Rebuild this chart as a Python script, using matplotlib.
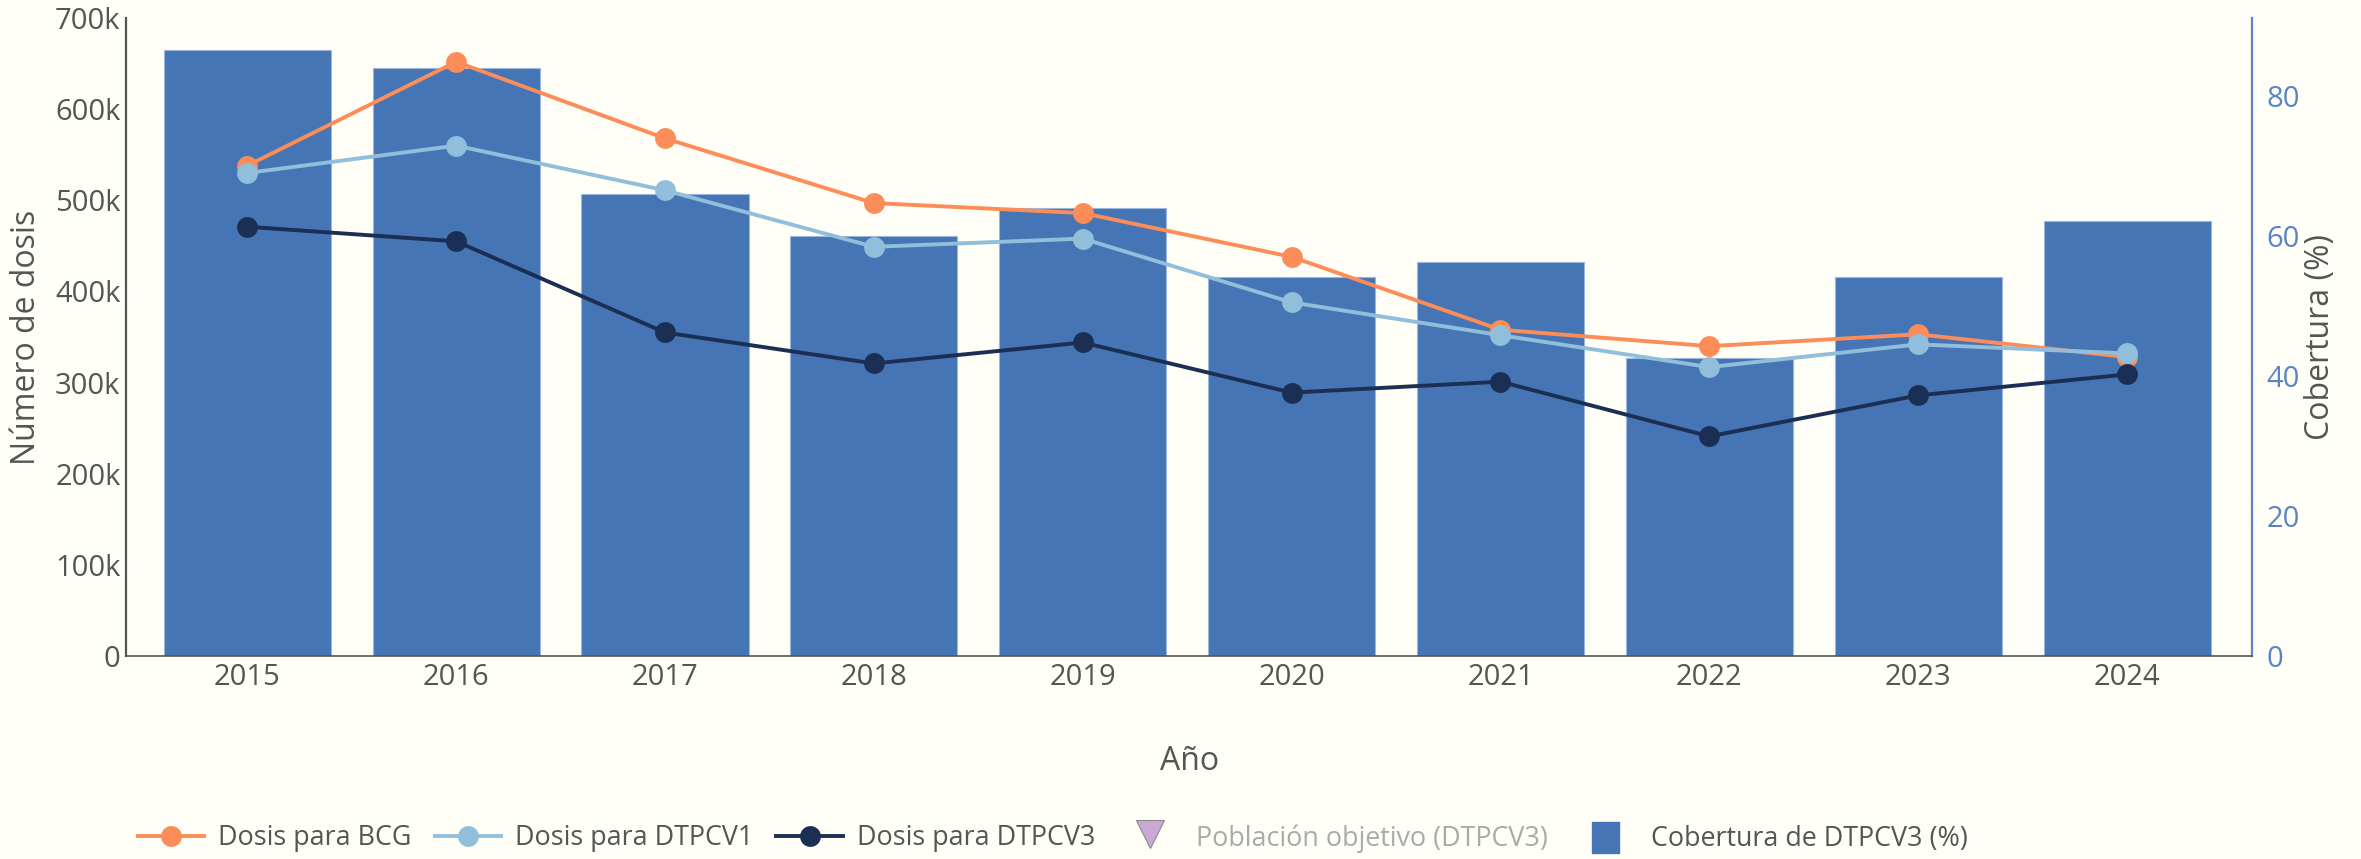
"""Dosis aplicadas y cobertura de DTPCV3, 2015-2024."""

import matplotlib
matplotlib.use("Agg")
import matplotlib.pyplot as plt
import matplotlib.lines as mlines
import matplotlib.patches as mpatches
import numpy as np

plt.rcParams["font.family"] = ["Open Sans", "DejaVu Sans"]

# Data
YEARS = ["2015", "2016", "2017", "2018", "2019", "2020", "2021", "2022", "2023", "2024"]
DOSIS_BCG = [538, 652, 568, 497, 486, 438, 358, 340, 353, 328]       # miles
DOSIS_DTPCV1 = [530, 560, 511, 449, 458, 388, 352, 317, 342, 332]    # miles
DOSIS_DTPCV3 = [471, 455, 355, 321, 344, 289, 301, 241, 286, 309]    # miles
COBERTURA_DTPCV3 = [86.6, 83.9, 66.0, 60.0, 64.0, 54.1, 56.3, 42.6, 54.1, 62.1]

BG = "#fffef7"
C_BAR = "#4575b4"
C_BCG = "#fc8d59"
C_DTP1 = "#91bfdb"
C_DTP3 = "#1b2f55"
C_POB = "#c9a9d6"
C_RIGHT = "#5b84c4"
C_TXT = "#555555"
LW = 2.8

fig = plt.figure(figsize=(23.61, 8.59), dpi=100, facecolor=BG)
ax = fig.add_axes([0.0534, 0.2363, 0.9006, 0.7427])
ax2 = ax.twinx()
ax2.set_zorder(ax.get_zorder() - 1)
ax.patch.set_visible(False)
ax2.set_facecolor(BG)

x = np.arange(len(YEARS))
ax2.bar(x, COBERTURA_DTPCV3, width=0.8, color=C_BAR, edgecolor="#9db6dc", linewidth=0.8)

for vals, col in [(DOSIS_BCG, C_BCG), (DOSIS_DTPCV1, C_DTP1), (DOSIS_DTPCV3, C_DTP3)]:
    ax.plot(x, np.array(vals) * 1000, color=col, linewidth=LW, marker="o",
            markersize=15, markeredgewidth=0)

ax.set_xlim(-0.58, 9.6)
ax.set_ylim(0, 700000)
ax2.set_ylim(0, 91.1)

ax.set_yticks(np.arange(0, 700001, 100000))
ax.set_yticklabels(["0"] + [f"{v}k" for v in range(100, 701, 100)])
ax2.set_yticks([0, 20, 40, 60, 80])
ax.set_xticks(x)
ax.set_xticklabels(YEARS)

ax.tick_params(axis="x", length=0, labelsize=21, colors=C_TXT, pad=5)
ax.tick_params(axis="y", length=0, labelsize=21, colors=C_TXT, pad=4)
ax2.tick_params(axis="y", length=0, labelsize=21, colors=C_RIGHT, pad=10)

for a in (ax, ax2):
    a.spines["top"].set_visible(False)
ax.spines["right"].set_visible(False)
ax2.spines["left"].set_visible(False)
ax2.spines["bottom"].set_visible(False)
ax.spines["left"].set_color(C_TXT)
ax.spines["left"].set_linewidth(1.6)
ax.spines["bottom"].set_color(C_TXT)
ax.spines["bottom"].set_linewidth(1.2)
ax2.spines["right"].set_color(C_RIGHT)
ax2.spines["right"].set_linewidth(1.6)

ax.set_ylabel("Número de dosis", fontsize=23, color=C_TXT, va="center")
ax.yaxis.set_label_coords(-0.0466, 0.5)
ax2.set_ylabel("Cobertura (%)", fontsize=23, color=C_TXT, va="center")
ax2.yaxis.set_label_coords(1.032, 0.5)
ax.set_xlabel("Año", fontsize=23, color=C_TXT, va="center")
ax.xaxis.set_label_coords(0.5, -0.166)

LEG_Y = 0.0245
LEG_FS = 19.4
line_handles = [
    mlines.Line2D([0], [0], color=c, lw=LW, marker="o", markersize=15, markeredgewidth=0)
    for c in (C_BCG, C_DTP1, C_DTP3)
]
leg1 = fig.legend(line_handles, ["Dosis para BCG", "Dosis para DTPCV1", "Dosis para DTPCV3"],
                  ncol=3, loc="center left", bbox_to_anchor=(0.0584, LEG_Y),
                  frameon=False, fontsize=LEG_FS, handlelength=2.47, handletextpad=0.52,
                  columnspacing=0.85, borderpad=0, borderaxespad=0)
for t in leg1.get_texts():
    t.set_color(C_TXT)

mark_handles = [
    mlines.Line2D([0], [0], color="none", marker="v", markersize=20,
                  markerfacecolor=C_POB, markeredgecolor="#8a8a8a", markeredgewidth=0.8),
    mpatches.Patch(color=C_BAR),
]
leg2 = fig.legend(mark_handles, ["Población objetivo (DTPCV3)", "Cobertura de DTPCV3 (%)"],
                  ncol=2, loc="center left", bbox_to_anchor=(0.4814, LEG_Y),
                  frameon=False, fontsize=LEG_FS, handlelength=1.0, handleheight=1.34,
                  handletextpad=1.2, columnspacing=1.63, borderpad=0, borderaxespad=0)
for t, c in zip(leg2.get_texts(), ["#aaaaaa", C_TXT]):
    t.set_color(c)

fig.savefig("out.png", dpi=100, facecolor=BG)
